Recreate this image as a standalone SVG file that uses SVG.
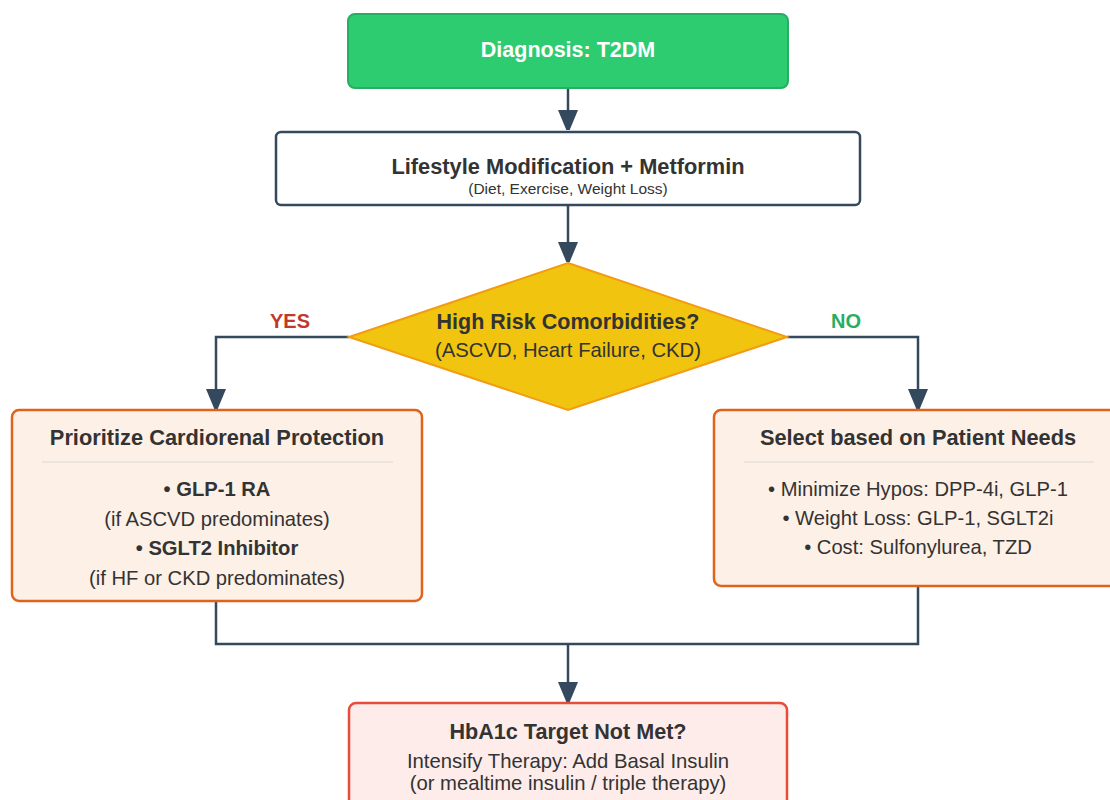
<svg xmlns="http://www.w3.org/2000/svg" width="1110" height="800" viewBox="0 0 1110 800">
<defs>
<marker id="arr" markerWidth="20" markerHeight="24" refX="20" refY="10" orient="auto" markerUnits="userSpaceOnUse">
<path d="M0,0 L24,10 L0,20 Z" fill="#34495e"/>
</marker>
<style>
.t{font-family:"Liberation Sans",Arial,sans-serif;text-anchor:middle;fill:#333}
.b{font-weight:bold}
.conn{fill:none;stroke:#34495e;stroke-width:2.5}
.opt{fill:#fdf0e7;stroke:#e0631c;stroke-width:2.5}
.sep{stroke:#e6e1dd;stroke-width:1.5}
</style>
</defs>
<rect width="1110" height="800" fill="#fff"/>
<g id="connectors">
<path class="conn" d="M568,88 V130" marker-end="url(#arr)"/>
<path class="conn" d="M568,205 V262" marker-end="url(#arr)"/>
<path class="conn" d="M349,337 H216 V409" marker-end="url(#arr)"/>
<path class="conn" d="M787,337 H918 V409" marker-end="url(#arr)"/>
<path class="conn" d="M216,601 V644 H918 V586"/>
<path class="conn" d="M568,644 V702" marker-end="url(#arr)"/>
</g>
<g id="diagnosis">
<rect x="348" y="14" width="440" height="74" rx="7" fill="#2ecc71" stroke="#27ae60" stroke-width="2"/>
<text class="t b" x="568" y="57" font-size="21.5" style="fill:#fff">Diagnosis: T2DM</text>
</g>
<g id="lifestyle">
<rect x="276" y="132" width="584" height="73" rx="5" fill="#fff" stroke="#34495e" stroke-width="2.5"/>
<text class="t b" x="568" y="174" font-size="21.8">Lifestyle Modification + Metformin</text>
<text class="t" x="568" y="194" font-size="15.5">(Diet, Exercise, Weight Loss)</text>
</g>
<g id="decision">
<polygon points="568,263 787,337 568,410 349,337" fill="#f1c40f" stroke="#f39c12" stroke-width="2"/>
<text class="t b" x="568" y="329" font-size="21.5">High Risk Comorbidities?</text>
<text class="t" x="568" y="357" font-size="20.3">(ASCVD, Heart Failure, CKD)</text>
</g>
<g id="labels">
<text class="t b" x="290" y="328" font-size="20" style="fill:#c0392b">YES</text>
<text class="t b" x="846" y="328" font-size="20" style="fill:#27ae60">NO</text>
</g>
<g id="cardiorenal">
<rect class="opt" x="12" y="410" width="410" height="191" rx="7"/>
<text class="t b" x="217" y="445" font-size="21.8">Prioritize Cardiorenal Protection</text>
<line class="sep" x1="42" y1="462" x2="393" y2="462"/>
<text class="t b" x="217" y="496" font-size="20.2">• GLP-1 RA</text>
<text class="t" x="217" y="526" font-size="20.2">(if ASCVD predominates)</text>
<text class="t b" x="217" y="555" font-size="20.2">• SGLT2 Inhibitor</text>
<text class="t" x="217" y="585" font-size="20.2">(if HF or CKD predominates)</text>
</g>
<g id="patientneeds">
<rect class="opt" x="714" y="410" width="408" height="176" rx="7"/>
<text class="t b" x="918" y="445" font-size="21.8">Select based on Patient Needs</text>
<line class="sep" x1="744" y1="462" x2="1094" y2="462"/>
<text class="t" x="918" y="496" font-size="20.2">• Minimize Hypos: DPP-4i, GLP-1</text>
<text class="t" x="918" y="525" font-size="20.2">• Weight Loss: GLP-1, SGLT2i</text>
<text class="t" x="918" y="554" font-size="20.2">• Cost: Sulfonylurea, TZD</text>
</g>
<g id="intensify">
<rect x="349" y="703" width="438" height="120" rx="7" fill="#fdecea" stroke="#e74c3c" stroke-width="2.5"/>
<text class="t b" x="568" y="739" font-size="21.6">HbA1c Target Not Met?</text>
<text class="t" x="568" y="768" font-size="20.3">Intensify Therapy: Add Basal Insulin</text>
<text class="t" x="568" y="790" font-size="20.3">(or mealtime insulin / triple therapy)</text>
</g>
</svg>
